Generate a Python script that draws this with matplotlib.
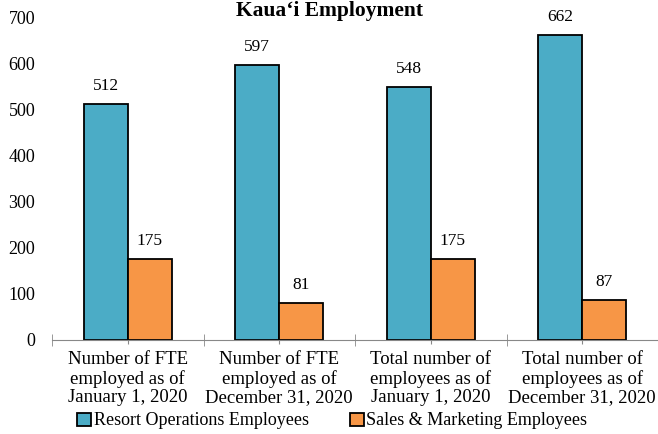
import numpy as np
import matplotlib.pyplot as plt
from matplotlib.patches import Patch

categories = ["Number of FTE\nemployed as of\nJanuary 1, 2020",
              "Number of FTE\nemployed as of\nDecember 31, 2020",
              "Total number of\nemployees as of\nJanuary 1, 2020",
              "Total number of\nemployees as of\nDecember 31, 2020"]
resort = [512, 597, 548, 662]
sales = [175, 81, 175, 87]
series_names = ["Resort Operations Employees", "Sales & Marketing Employees"]
colors = ["#4BACC6", "#F79646"]

plt.rcParams['font.family'] = ['Liberation Serif', 'DejaVu Serif']
plt.rcParams['font.size'] = 13

fig = plt.figure(figsize=(6.58, 4.34), dpi=100)
ax = fig.add_axes([52/658, 94/434, 606/658, 323/434])

x = np.arange(len(categories))
w = 0.29
b1 = ax.bar(x - w/2, resort, w, color=colors[0], edgecolor='black', linewidth=1.3)
b2 = ax.bar(x + w/2, sales, w, color=colors[1], edgecolor='black', linewidth=1.3)
for bars in (b1, b2):
    for r in bars:
        ax.annotate(str(int(r.get_height())), (r.get_x() + r.get_width()/2, r.get_height()),
                    xytext=(0, 10), textcoords='offset points', ha='center', va='baseline',
                    fontsize=12.5)

ax.set_xlim(-0.5, 3.5)
ax.set_ylim(0, 700)
ax.set_yticks(range(0, 701, 100))
ax.set_xticks(x)
ax.set_xticklabels(categories, linespacing=1.12, fontsize=13.5)
ax.set_xticks(np.arange(-0.5, 3.6, 1), minor=True)
ax.tick_params(axis='x', which='major', length=3, color='#888888', pad=5)
ax.tick_params(axis='x', which='minor', length=9, direction='inout', color='#888888')
ax.tick_params(axis='y', length=0, pad=12)
for s in ['top', 'right', 'left']:
    ax.spines[s].set_visible(False)
ax.spines['bottom'].set_color('#888888')

fig.text(0.5, 1 - 16/434, "Kaua\u2018i Employment", ha='center', va='baseline',
         fontsize=15.5, fontweight='bold')

handles = [Patch(facecolor=c, edgecolor='black', linewidth=1.3) for c in colors]
fig.legend(handles, series_names, loc='center', bbox_to_anchor=(0.505, 0.03), ncol=2,
           frameon=False, fontsize=13, handlelength=0.75, handleheight=0.75,
           handletextpad=0.15, columnspacing=2.3, borderpad=0, borderaxespad=0)

fig.savefig('out.png', dpi=100)
